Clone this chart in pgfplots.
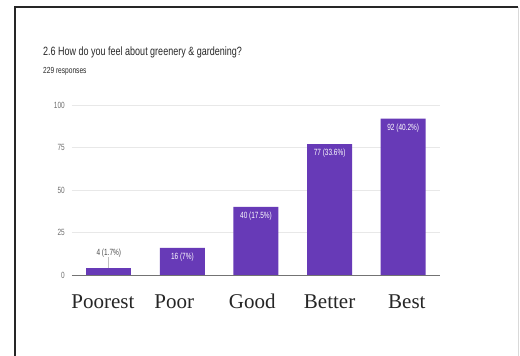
\documentclass[border=0pt]{standalone}
\usepackage{pgfplots}
\pgfplotsset{compat=1.18}
\usepackage{fontspec}
\setmainfont{Liberation Serif}
\newfontfamily\gf[FakeStretch=0.75]{Liberation Sans}
\newfontfamily\gfn[FakeStretch=0.72]{Liberation Sans}
\definecolor{gpurple}{RGB}{103,58,183}
\definecolor{gridc}{RGB}{232,232,232}
\definecolor{tickc}{RGB}{110,110,110}
\definecolor{titlec}{RGB}{40,40,40}
\begin{document}
\begin{tikzpicture}[x=1pt,y=1pt]
\useasboundingbox (0,0) rectangle (520,356);
\fill[white] (0,0) rectangle (520,356);
% frame
\draw[line width=2pt,black!85] (15,0) -- (15,349) -- (518,349);
\draw[line width=0.6pt,black!15] (518,349) -- (518,0);
% titles
\node[anchor=west,inner sep=0,text=titlec,font=\gf\fontsize{12}{14}\selectfont] at (43,304) {2.6 How do you feel about greenery \& gardening?};
\node[anchor=west,inner sep=0,text=titlec,font=\gf\fontsize{8.8}{10}\selectfont] at (43,285) {229 responses};
\begin{axis}[
  at={(72pt,81pt)}, anchor=south west,
  scale only axis, width=368pt, height=170pt,
  xmin=-0.5, xmax=4.5, ymin=0, ymax=100,
  ybar, bar width=45pt, bar shift=0pt,
  axis line style={draw=none},
  axis x line*=bottom,
  ytick={0,25,50,75,100},
  ymajorgrids, grid style={gridc, line width=0.6pt},
  major tick length=0pt,
  xtick={-0.08,0.89,1.95,3,4.05},
  xticklabels={Poorest,Poor,Good,Better,Best},
  xticklabel style={font=\fontsize{21}{24}\selectfont, text=black!85, anchor=base, inner sep=0pt, yshift=-34pt},
  yticklabel style={font=\gfn\fontsize{9}{10}\selectfont, text=tickc, anchor=east, inner sep=0pt, xshift=-7pt},
  /pgf/number format/assume math mode=true,
  clip=false,
]
\draw[black!25, line width=0.6pt] (axis cs:0,4) -- (axis cs:0,10.5);
\addplot[fill=gpurple, draw=none,
  point meta=explicit symbolic,
  nodes near coords,
  every node near coord/.append style={font=\gfn\fontsize{9}{10}\selectfont, text=black!70, anchor=south, inner sep=0pt, yshift=11pt},
] coordinates {(0,4) [4 (1.7\%)]};
\addplot[fill=gpurple, draw=none,
  point meta=explicit symbolic,
  nodes near coords,
  every node near coord/.append style={font=\gfn\fontsize{9}{10}\selectfont, text=white, anchor=north, inner sep=0pt, yshift=-5pt},
] coordinates {(1,16) [16 (7\%)] (2,40) [40 (17.5\%)] (3,77) [77 (33.6\%)] (4,92) [92 (40.2\%)]};
\draw[black!55, line width=0.7pt] (axis cs:-0.5,0) -- (axis cs:4.5,0);
\end{axis}
\end{tikzpicture}
\end{document}
